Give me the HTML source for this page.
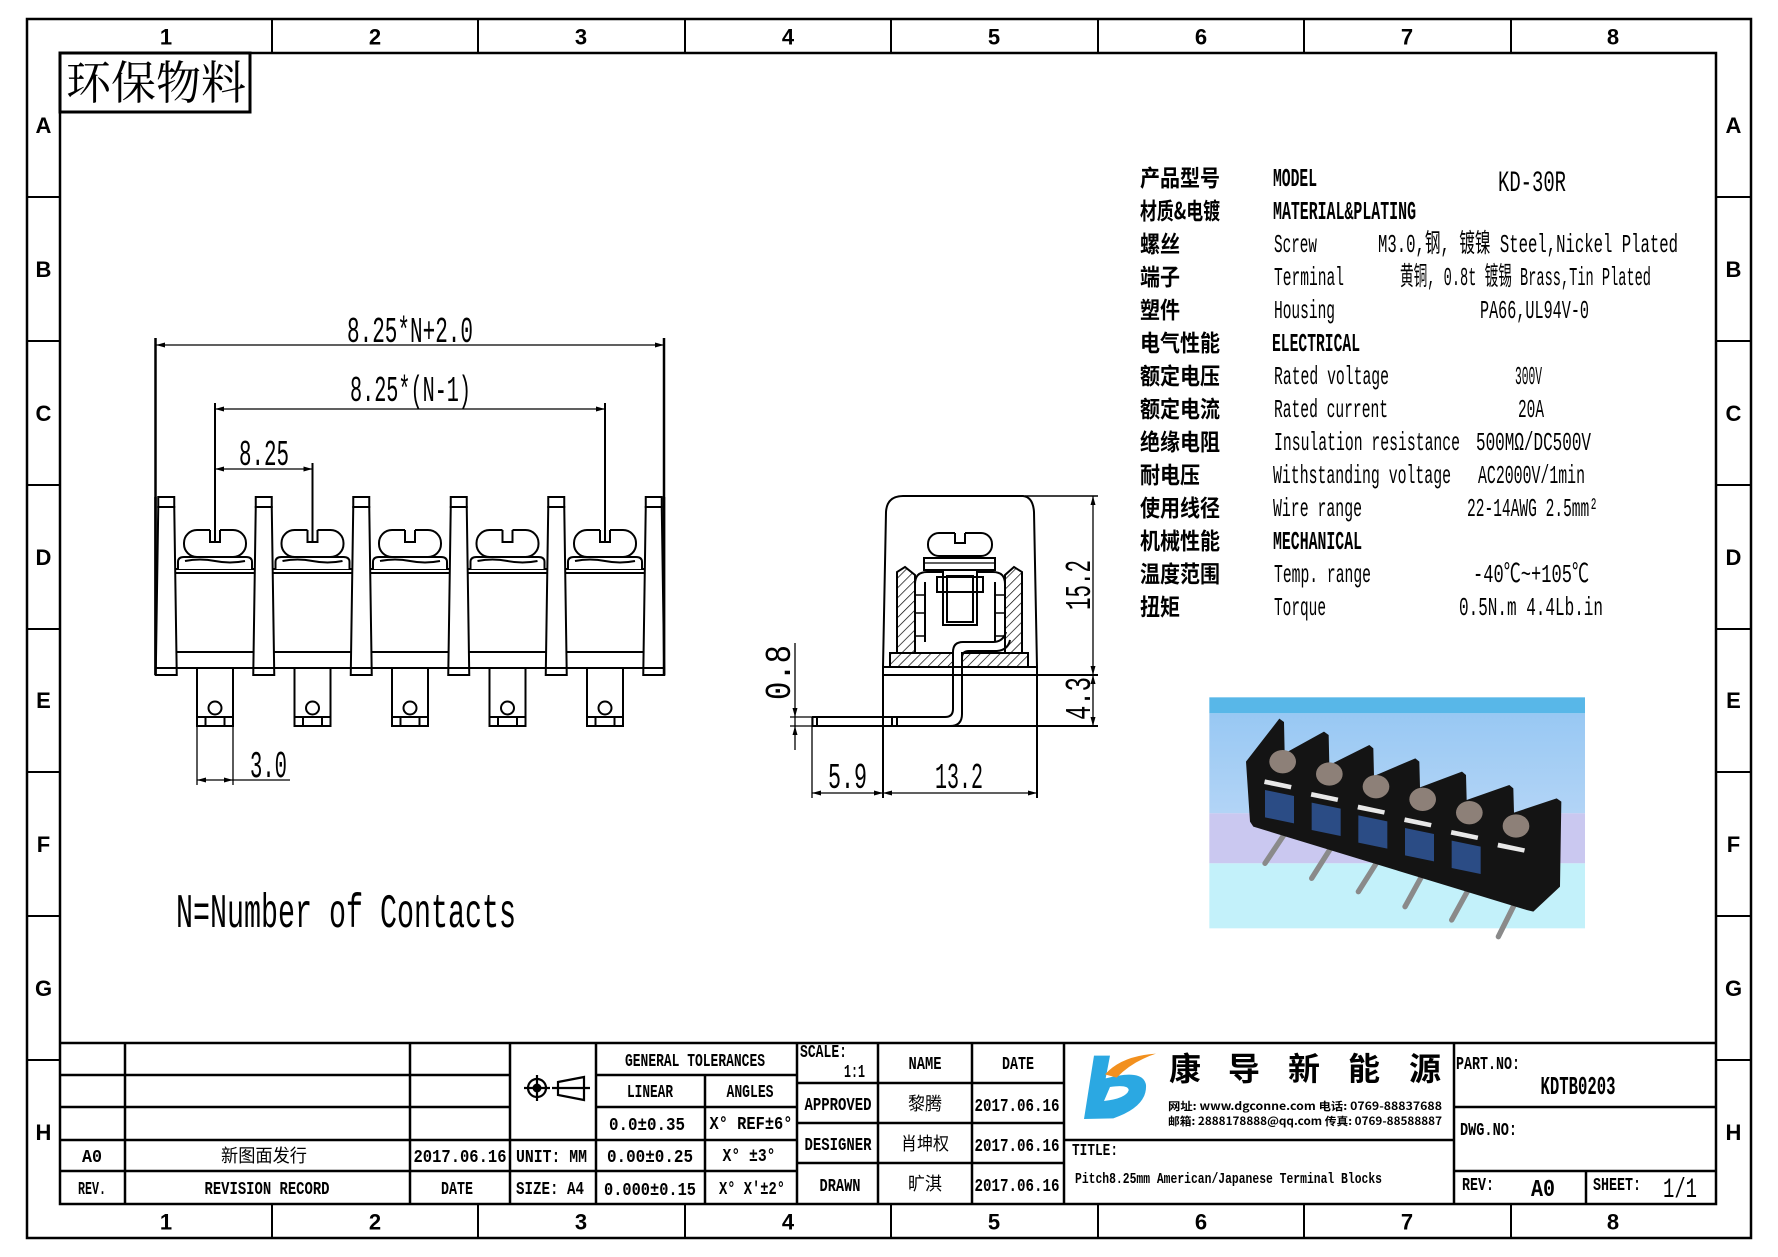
<!DOCTYPE html>
<html><head><meta charset="utf-8"><style>
html,body{margin:0;padding:0;background:#fff;}
svg{display:block}
.m{font-family:"Liberation Mono","Noto Sans CJK SC",monospace;}
.mb{font-family:"Liberation Mono","Noto Sans CJK SC",monospace;font-weight:bold;}
.sb{font-family:"Liberation Sans",sans-serif;font-weight:bold;}
.c{font-family:"Noto Sans CJK SC",sans-serif;}
.cb{font-family:"Noto Sans CJK SC",sans-serif;font-weight:bold;}
.cs{font-family:"Noto Serif CJK SC","Noto Sans CJK SC",serif;}
</style></head><body>
<svg width="1778" height="1257" viewBox="0 0 1778 1257" xmlns="http://www.w3.org/2000/svg">
<defs>
<pattern id="h" width="7" height="7" patternUnits="userSpaceOnUse" patternTransform="rotate(45)"><line x1="0" y1="0" x2="0" y2="7" stroke="#000" stroke-width="1.4"/></pattern>
<linearGradient id="g1" x1="0" y1="0" x2="0" y2="1"><stop offset="0" stop-color="#98c8f3"/><stop offset="1" stop-color="#b2d4f6"/></linearGradient>
</defs>
<rect width="1778" height="1257" fill="#fff"/>

<!-- Frame -->
<g stroke="#000" fill="none">
<rect x="27" y="19" width="1724" height="1219" stroke-width="2.5"/>
<rect x="60" y="53" width="1656" height="1151" stroke-width="2.5"/>
<g stroke-width="2">
<line x1="272" y1="19" x2="272" y2="53"/><line x1="478" y1="19" x2="478" y2="53"/><line x1="685" y1="19" x2="685" y2="53"/><line x1="891" y1="19" x2="891" y2="53"/><line x1="1098" y1="19" x2="1098" y2="53"/><line x1="1304" y1="19" x2="1304" y2="53"/><line x1="1511" y1="19" x2="1511" y2="53"/>
<line x1="272" y1="1204" x2="272" y2="1238"/><line x1="478" y1="1204" x2="478" y2="1238"/><line x1="685" y1="1204" x2="685" y2="1238"/><line x1="891" y1="1204" x2="891" y2="1238"/><line x1="1098" y1="1204" x2="1098" y2="1238"/><line x1="1304" y1="1204" x2="1304" y2="1238"/><line x1="1511" y1="1204" x2="1511" y2="1238"/>
<line x1="27" y1="197" x2="60" y2="197"/><line x1="27" y1="341" x2="60" y2="341"/><line x1="27" y1="485" x2="60" y2="485"/><line x1="27" y1="629" x2="60" y2="629"/><line x1="27" y1="772" x2="60" y2="772"/><line x1="27" y1="916" x2="60" y2="916"/><line x1="27" y1="1060" x2="60" y2="1060"/>
<line x1="1716" y1="197" x2="1751" y2="197"/><line x1="1716" y1="341" x2="1751" y2="341"/><line x1="1716" y1="485" x2="1751" y2="485"/><line x1="1716" y1="629" x2="1751" y2="629"/><line x1="1716" y1="772" x2="1751" y2="772"/><line x1="1716" y1="916" x2="1751" y2="916"/><line x1="1716" y1="1060" x2="1751" y2="1060"/>
</g>
</g>
<g class="sb" font-size="22" text-anchor="middle" fill="#000">
<text x="166" y="44.5">1</text><text x="375" y="44.5">2</text><text x="581" y="44.5">3</text><text x="788" y="44.5">4</text><text x="994" y="44.5">5</text><text x="1201" y="44.5">6</text><text x="1407" y="44.5">7</text><text x="1613" y="44.5">8</text>
<text x="166" y="1229.5">1</text><text x="375" y="1229.5">2</text><text x="581" y="1229.5">3</text><text x="788" y="1229.5">4</text><text x="994" y="1229.5">5</text><text x="1201" y="1229.5">6</text><text x="1407" y="1229.5">7</text><text x="1613" y="1229.5">8</text>
<text x="43.5" y="133">A</text><text x="43.5" y="277">B</text><text x="43.5" y="421">C</text><text x="43.5" y="565">D</text><text x="43.5" y="708">E</text><text x="43.5" y="852">F</text><text x="43.5" y="996">G</text><text x="43.5" y="1140">H</text>
<text x="1733.5" y="133">A</text><text x="1733.5" y="277">B</text><text x="1733.5" y="421">C</text><text x="1733.5" y="565">D</text><text x="1733.5" y="708">E</text><text x="1733.5" y="852">F</text><text x="1733.5" y="996">G</text><text x="1733.5" y="1140">H</text>
</g>

<!-- 环保物料 -->
<rect x="60" y="53" width="190" height="59" fill="none" stroke="#000" stroke-width="3"/>
<text class="cs" x="66" y="99" font-size="46" textLength="180" lengthAdjust="spacingAndGlyphs" fill="#000">环保物料</text>

<!-- Front view -->
<g stroke="#000" stroke-width="1.3" fill="none">
<line x1="155.5" y1="338" x2="155.5" y2="675" stroke-width="2.5"/>
<line x1="664" y1="338" x2="664" y2="675" stroke-width="2.5"/>
<line x1="155.5" y1="345" x2="664" y2="345"/>
<line x1="215" y1="403" x2="215" y2="542" stroke-width="2"/>
<line x1="605" y1="403" x2="605" y2="542" stroke-width="2"/>
<line x1="215" y1="409" x2="605" y2="409"/>
<line x1="312.5" y1="463" x2="312.5" y2="542" stroke-width="2"/>
<line x1="215" y1="469" x2="312.5" y2="469"/>
</g>
<g fill="#000">
<polygon points="156,345 165,342.5 165,347.5"/><polygon points="664,345 655,342.5 655,347.5"/>
<polygon points="215,409 224,406.5 224,411.5"/><polygon points="605,409 596,406.5 596,411.5"/>
<polygon points="215,469 224,466.5 224,471.5"/><polygon points="312.5,469 303.5,466.5 303.5,471.5"/>
</g>
<g class="m" fill="#000" font-size="36">
<text x="347" y="342" textLength="126" lengthAdjust="spacingAndGlyphs">8.25*N+2.0</text>
<text x="350" y="401" textLength="121" lengthAdjust="spacingAndGlyphs">8.25*(N-1)</text>
<text x="239" y="465" textLength="50" lengthAdjust="spacingAndGlyphs">8.25</text>
<text x="250" y="777" textLength="37" lengthAdjust="spacingAndGlyphs" font-size="38">3.0</text>
</g>
<g stroke="#000" stroke-width="2" fill="#fff">
<line x1="156" y1="569" x2="664" y2="569"/>
<line x1="156" y1="573" x2="664" y2="573"/>
<line x1="156" y1="652" x2="664" y2="652"/>
<!-- screws -->
<g id="scr">
<path d="M178,569 V562 Q178,557 184,557 H246 Q252,557 252,562 V569"/>
<path d="M185,561 Q200,558 215,561 Q230,564 245,561" fill="none"/>
<rect x="184" y="530" width="62" height="27" rx="13"/>
<rect x="210" y="528.5" width="10" height="13" stroke="none"/>
<path d="M210,530 V542 H220 V530" fill="none"/>
<rect x="197" y="668" width="36" height="58"/>
<circle cx="215" cy="708" r="6.5"/>
<path d="M197,717 H233 M205.5,717 V726 M224.5,717 V726" fill="none"/>
</g>
<use href="#scr" x="97.5"/><use href="#scr" x="195"/><use href="#scr" x="292.5"/><use href="#scr" x="390"/>
<!-- barriers -->
<rect x="158.25" y="497" width="16" height="10"/><polygon points="158.25,507 174.25,507 176.75,675 155.75,675"/>
<rect x="255.75" y="497" width="16" height="10"/><polygon points="255.75,507 271.75,507 274.25,675 253.25,675"/>
<rect x="353.25" y="497" width="16" height="10"/><polygon points="353.25,507 369.25,507 371.75,675 350.75,675"/>
<rect x="450.75" y="497" width="16" height="10"/><polygon points="450.75,507 466.75,507 469.25,675 448.25,675"/>
<rect x="548.25" y="497" width="16" height="10"/><polygon points="548.25,507 564.25,507 566.75,675 545.75,675"/>
<rect x="645.75" y="497" width="16" height="10"/><polygon points="645.75,507 661.75,507 664.25,675 643.25,675"/>
<line x1="156" y1="668" x2="664" y2="668"/>
<line x1="155.5" y1="497" x2="155.5" y2="675" stroke-width="2.5"/>
<line x1="664" y1="497" x2="664" y2="675" stroke-width="2.5"/>
<line x1="215" y1="497" x2="215" y2="542"/>
<line x1="605" y1="497" x2="605" y2="542"/>
<line x1="312.5" y1="497" x2="312.5" y2="542"/>
</g>
<g stroke="#000" stroke-width="1.3" fill="none">
<line x1="197" y1="726" x2="197" y2="785"/>
<line x1="233" y1="726" x2="233" y2="785"/>
<line x1="197" y1="780" x2="290" y2="780"/>
</g>
<g fill="#000"><polygon points="197,780 206,777.5 206,782.5"/><polygon points="233,780 224,777.5 224,782.5"/></g>

<text class="m" x="176" y="927" font-size="48" textLength="340" lengthAdjust="spacingAndGlyphs" fill="#000">N=Number of Contacts</text>

<!-- Side view -->
<g stroke="#000" stroke-width="2" fill="none">
<path d="M883,667 L886,512 Q887,496 903,496 L1023,496 Q1033,497 1034,512 L1037,667"/>
<line x1="882" y1="667" x2="1037" y2="667"/>
<line x1="882" y1="675" x2="1098" y2="675"/>
<line x1="883" y1="667" x2="883" y2="798"/>
<line x1="1037" y1="667" x2="1037" y2="798"/>
<line x1="812" y1="726" x2="1098" y2="726"/>
<line x1="1025" y1="496" x2="1098" y2="496" stroke-width="1.5"/>
<path d="M812,717 H945 Q953,717 953,709 V652 Q953,642 963,642 H993 Q1003,642 1006,632"/>
<path d="M950,726 Q962,726 962,714 V658 Q962,651 969,651 H997 Q1008,650 1010,640"/>
<line x1="812.5" y1="717" x2="812.5" y2="726"/><line x1="817" y1="717" x2="817" y2="726"/>
<line x1="892" y1="717" x2="892" y2="726"/><line x1="897" y1="717" x2="897" y2="726"/>
<polygon points="897,653 897,572 905,567 915,575 915,653" fill="url(#h)"/>
<polygon points="1005,653 1005,575 1014,567 1022,572 1022,653" fill="url(#h)"/>
<polygon points="890,653 953,653 953,667 890,667" fill="url(#h)"/>
<polygon points="962,653 1028,653 1028,667 962,667" fill="url(#h)"/>
<path d="M915,653 V584 Q915,572 927,572 H993 Q1005,572 1005,584 V653"/>
<line x1="925" y1="582" x2="925" y2="642"/><line x1="995" y1="582" x2="995" y2="642"/>
<path d="M915,595 H925 M915,613 H925 M915,636 H925 M995,595 H1005 M995,613 H1005 M995,636 H1005" stroke-width="1.5"/>
<rect x="924" y="558" width="71" height="12" fill="#fff"/>
<line x1="924" y1="563" x2="995" y2="563" stroke-width="1.3"/>
<rect x="928" y="533" width="64" height="23" rx="11" fill="#fff"/>
<rect x="955" y="531.5" width="10" height="11" fill="#fff" stroke="none"/>
<path d="M955,533 V543 H965 V533"/>
<rect x="943" y="570" width="34" height="55" fill="#fff"/>
<rect x="947" y="576" width="26" height="46"/>
<rect x="937" y="577" width="46" height="15"/>
<g stroke-width="1.3">
<line x1="1093" y1="496" x2="1093" y2="726"/>
<line x1="795" y1="643" x2="795" y2="750"/>
<line x1="790" y1="717" x2="812" y2="717"/>
<line x1="790" y1="726" x2="812" y2="726"/>
<line x1="812" y1="717" x2="812" y2="798"/>
<line x1="812" y1="793" x2="1037" y2="793"/>
</g>
</g>
<g fill="#000">
<polygon points="1093,496 1090.5,505 1095.5,505"/><polygon points="1093,675 1090.5,666 1095.5,666"/>
<polygon points="1093,675 1090.5,684 1095.5,684"/><polygon points="1093,726 1090.5,717 1095.5,717"/>
<polygon points="795,717 792.5,708 797.5,708"/><polygon points="795,726 792.5,735 797.5,735"/>
<polygon points="812,793 821,790.5 821,795.5"/><polygon points="883,793 874,790.5 874,795.5"/>
<polygon points="883,793 892,790.5 892,795.5"/><polygon points="1037,793 1028,790.5 1028,795.5"/>
</g>
<g class="m" fill="#000" font-size="36">
<text transform="translate(1090,585) rotate(-90)" text-anchor="middle" textLength="50" lengthAdjust="spacingAndGlyphs">15.2</text>
<text transform="translate(1090,698.5) rotate(-90)" text-anchor="middle" textLength="43" lengthAdjust="spacingAndGlyphs">4.3</text>
<text transform="translate(790,672.5) rotate(-90)" text-anchor="middle" textLength="55" lengthAdjust="spacingAndGlyphs">0.8</text>
<text x="828" y="788" textLength="39" lengthAdjust="spacingAndGlyphs">5.9</text>
<text x="935" y="788" textLength="48" lengthAdjust="spacingAndGlyphs">13.2</text>
</g>

<!-- Spec table -->
<g class="cb" font-size="23" fill="#000" lengthAdjust="spacingAndGlyphs">
<text x="1140" y="186" textLength="80" lengthAdjust="spacingAndGlyphs">产品型号</text>
<text x="1140" y="219" textLength="80" lengthAdjust="spacingAndGlyphs">材质&amp;电镀</text>
<text x="1140" y="252" textLength="40" lengthAdjust="spacingAndGlyphs">螺丝</text>
<text x="1140" y="285" textLength="40" lengthAdjust="spacingAndGlyphs">端子</text>
<text x="1140" y="318" textLength="40" lengthAdjust="spacingAndGlyphs">塑件</text>
<text x="1140" y="351" textLength="80" lengthAdjust="spacingAndGlyphs">电气性能</text>
<text x="1140" y="384" textLength="80" lengthAdjust="spacingAndGlyphs">额定电压</text>
<text x="1140" y="417" textLength="80" lengthAdjust="spacingAndGlyphs">额定电流</text>
<text x="1140" y="450" textLength="80" lengthAdjust="spacingAndGlyphs">绝缘电阻</text>
<text x="1140" y="483" textLength="60" lengthAdjust="spacingAndGlyphs">耐电压</text>
<text x="1140" y="516" textLength="80" lengthAdjust="spacingAndGlyphs">使用线径</text>
<text x="1140" y="549" textLength="80" lengthAdjust="spacingAndGlyphs">机械性能</text>
<text x="1140" y="582" textLength="80" lengthAdjust="spacingAndGlyphs">温度范围</text>
<text x="1140" y="615" textLength="40" lengthAdjust="spacingAndGlyphs">扭矩</text>
</g>
<g class="m" font-size="26" fill="#000">
<text class="mb" x="1273" y="186" textLength="44" lengthAdjust="spacingAndGlyphs">MODEL</text>
<text x="1498" y="191" font-size="30" textLength="68" lengthAdjust="spacingAndGlyphs">KD-30R</text>
<text class="mb" x="1273" y="219" textLength="143" lengthAdjust="spacingAndGlyphs">MATERIAL&amp;PLATING</text>
<text x="1274" y="252" textLength="43" lengthAdjust="spacingAndGlyphs">Screw</text>
<text x="1378" y="252" textLength="300" lengthAdjust="spacingAndGlyphs">M3.0,钢, 镀镍 Steel,Nickel Plated</text>
<text x="1274" y="285" textLength="70" lengthAdjust="spacingAndGlyphs">Terminal</text>
<text x="1400" y="285" textLength="251" lengthAdjust="spacingAndGlyphs">黄铜, 0.8t 镀锡 Brass,Tin Plated</text>
<text x="1274" y="318" textLength="61" lengthAdjust="spacingAndGlyphs">Housing</text>
<text x="1480" y="318" textLength="109" lengthAdjust="spacingAndGlyphs">PA66,UL94V-0</text>
<text class="mb" x="1272" y="351" textLength="88" lengthAdjust="spacingAndGlyphs">ELECTRICAL</text>
<text x="1274" y="384" textLength="115" lengthAdjust="spacingAndGlyphs">Rated voltage</text>
<text x="1515" y="384" textLength="27" lengthAdjust="spacingAndGlyphs">300V</text>
<text x="1274" y="417" textLength="114" lengthAdjust="spacingAndGlyphs">Rated current</text>
<text x="1518" y="417" textLength="26" lengthAdjust="spacingAndGlyphs">20A</text>
<text x="1274" y="450" textLength="186" lengthAdjust="spacingAndGlyphs">Insulation resistance</text>
<text x="1476" y="450" textLength="115" lengthAdjust="spacingAndGlyphs">500MΩ/DC500V</text>
<text x="1273" y="483" textLength="178" lengthAdjust="spacingAndGlyphs">Withstanding voltage</text>
<text x="1478" y="483" textLength="107" lengthAdjust="spacingAndGlyphs">AC2000V/1min</text>
<text x="1273" y="516" textLength="89" lengthAdjust="spacingAndGlyphs">Wire range</text>
<text x="1467" y="516" textLength="131" lengthAdjust="spacingAndGlyphs">22-14AWG 2.5mm²</text>
<text class="mb" x="1273" y="549" textLength="89" lengthAdjust="spacingAndGlyphs">MECHANICAL</text>
<text x="1274" y="582" textLength="97" lengthAdjust="spacingAndGlyphs">Temp. range</text>
<text x="1473" y="582" textLength="116" lengthAdjust="spacingAndGlyphs">-40℃~+105℃</text>
<text x="1274" y="615" textLength="52" lengthAdjust="spacingAndGlyphs">Torque</text>
<text x="1459" y="615" textLength="144" lengthAdjust="spacingAndGlyphs">0.5N.m  4.4Lb.in</text>
</g>

<!-- Photo -->
<g transform="translate(1200,690) scale(0.33333)">
<rect x="28" y="22" width="1127" height="48" fill="#58b7e8"/>
<rect x="28" y="70" width="1127" height="300" fill="url(#g1)"/>
<rect x="28" y="370" width="1127" height="150" fill="#cac8f0"/>
<rect x="28" y="520" width="1127" height="195" fill="#c3f1fa"/>
<g stroke="#8a8a8a" stroke-width="16" stroke-linecap="round">
<line x1="255" y1="430" x2="195" y2="520"/><line x1="395" y1="470" x2="335" y2="565"/><line x1="535" y1="510" x2="475" y2="605"/><line x1="670" y1="550" x2="615" y2="650"/><line x1="810" y1="590" x2="755" y2="690"/><line x1="950" y1="630" x2="895" y2="740"/>
</g>
<polygon fill="#141414" points="138,215 238,86 252,96 254,190 372,125 386,135 388,225 508,165 520,175 522,258 646,205 658,215 660,292 786,245 798,255 800,330 928,285 940,295 942,368 1070,325 1084,335 1080,590 1000,665 980,660 160,410 150,395"/>
<g fill="#8d8078">
<ellipse cx="248" cy="215" rx="40" ry="35"/><ellipse cx="388" cy="252" rx="40" ry="35"/><ellipse cx="528" cy="290" rx="40" ry="35"/><ellipse cx="668" cy="328" rx="40" ry="35"/><ellipse cx="808" cy="368" rx="40" ry="35"/><ellipse cx="948" cy="408" rx="40" ry="35"/>
</g>
<g fill="#e8e8e8">
<polygon points="195,268 275,285 272,298 192,282"/><polygon points="335,306 415,323 412,336 332,320"/><polygon points="475,344 555,361 552,374 472,358"/><polygon points="615,382 695,399 692,412 612,396"/><polygon points="755,420 835,437 832,450 752,434"/><polygon points="895,458 975,475 972,488 892,472"/>
</g>
<g fill="#2b4c85">
<polygon points="195,300 282,318 282,400 195,382"/><polygon points="335,338 422,356 422,438 335,420"/><polygon points="475,376 562,394 562,476 475,458"/><polygon points="615,414 702,432 702,514 615,496"/><polygon points="755,452 842,470 842,552 755,534"/>
</g>
</g>

<!-- Title block -->
<g stroke="#000" stroke-width="2.5" fill="none">
<line x1="60" y1="1043" x2="1716" y2="1043"/>
<line x1="60" y1="1075" x2="510" y2="1075"/><line x1="596" y1="1075" x2="797" y2="1075"/>
<line x1="60" y1="1107" x2="510" y2="1107"/><line x1="596" y1="1107" x2="797" y2="1107"/>
<line x1="60" y1="1140" x2="797" y2="1140"/><line x1="1064" y1="1140" x2="1454" y2="1140"/>
<line x1="60" y1="1171" x2="797" y2="1171"/>
<line x1="1454" y1="1107" x2="1716" y2="1107"/><line x1="1454" y1="1171" x2="1716" y2="1171"/>
<line x1="797" y1="1083" x2="1064" y2="1083"/><line x1="797" y1="1123" x2="1064" y2="1123"/><line x1="797" y1="1163" x2="1064" y2="1163"/>
<line x1="125" y1="1043" x2="125" y2="1204"/><line x1="410" y1="1043" x2="410" y2="1204"/><line x1="510" y1="1043" x2="510" y2="1204"/>
<line x1="596" y1="1043" x2="596" y2="1204"/><line x1="705" y1="1075" x2="705" y2="1204"/>
<line x1="797" y1="1043" x2="797" y2="1204"/><line x1="878" y1="1043" x2="878" y2="1204"/><line x1="972" y1="1043" x2="972" y2="1204"/>
<line x1="1064" y1="1043" x2="1064" y2="1204"/><line x1="1454" y1="1043" x2="1454" y2="1204"/><line x1="1586" y1="1171" x2="1586" y2="1204"/>
</g>
<!-- projection symbol -->
<g stroke="#000" stroke-width="2.2" fill="none">
<circle cx="537" cy="1088" r="9"/>
<line x1="524" y1="1088" x2="550" y2="1088"/><line x1="537" y1="1075" x2="537" y2="1101"/>
<polygon points="558,1082 584,1077 584,1100 558,1095"/>
<line x1="552" y1="1088" x2="590" y2="1088"/>
</g>
<circle cx="537" cy="1088" r="4.5" fill="#000"/>

<g class="mb" font-size="18" fill="#000">
<text x="92" y="1162" text-anchor="middle" textLength="20" lengthAdjust="spacingAndGlyphs">A0</text>
<text x="460" y="1162" text-anchor="middle" textLength="93" lengthAdjust="spacingAndGlyphs">2017.06.16</text>
<text x="516" y="1162" textLength="71" lengthAdjust="spacingAndGlyphs">UNIT: MM</text>
<text x="92" y="1194" text-anchor="middle" textLength="28" lengthAdjust="spacingAndGlyphs">REV.</text>
<text x="267" y="1194" text-anchor="middle" textLength="125" lengthAdjust="spacingAndGlyphs">REVISION RECORD</text>
<text x="457" y="1194" text-anchor="middle" textLength="32" lengthAdjust="spacingAndGlyphs">DATE</text>
<text x="516" y="1194" textLength="68" lengthAdjust="spacingAndGlyphs">SIZE: A4</text>
<text x="695" y="1066" text-anchor="middle" textLength="140" lengthAdjust="spacingAndGlyphs">GENERAL TOLERANCES</text>
<text x="650" y="1097" text-anchor="middle" textLength="46" lengthAdjust="spacingAndGlyphs">LINEAR</text>
<text x="750" y="1097" text-anchor="middle" textLength="47" lengthAdjust="spacingAndGlyphs">ANGLES</text>
<text x="647" y="1130" text-anchor="middle" textLength="76" lengthAdjust="spacingAndGlyphs">0.0±0.35</text>
<text x="751" y="1129" text-anchor="middle" textLength="83" lengthAdjust="spacingAndGlyphs">X° REF±6°</text>
<text x="650" y="1162" text-anchor="middle" textLength="86" lengthAdjust="spacingAndGlyphs">0.00±0.25</text>
<text x="749" y="1161" text-anchor="middle" textLength="53" lengthAdjust="spacingAndGlyphs">X°  ±3°</text>
<text x="650" y="1195" text-anchor="middle" textLength="92" lengthAdjust="spacingAndGlyphs">0.000±0.15</text>
<text x="752" y="1194" text-anchor="middle" textLength="66" lengthAdjust="spacingAndGlyphs">X° X'±2°</text>
<text x="800" y="1057" textLength="47" lengthAdjust="spacingAndGlyphs">SCALE:</text>
<text x="844" y="1077" textLength="21" lengthAdjust="spacingAndGlyphs">1:1</text>
<text x="925" y="1069" text-anchor="middle" textLength="33" lengthAdjust="spacingAndGlyphs">NAME</text>
<text x="1018" y="1069" text-anchor="middle" textLength="32" lengthAdjust="spacingAndGlyphs">DATE</text>
<text x="838" y="1110" text-anchor="middle" textLength="67" lengthAdjust="spacingAndGlyphs">APPROVED</text>
<text x="1017" y="1111" text-anchor="middle" textLength="85" lengthAdjust="spacingAndGlyphs">2017.06.16</text>
<text x="838" y="1150" text-anchor="middle" textLength="67" lengthAdjust="spacingAndGlyphs">DESIGNER</text>
<text x="1017" y="1151" text-anchor="middle" textLength="85" lengthAdjust="spacingAndGlyphs">2017.06.16</text>
<text x="840" y="1191" text-anchor="middle" textLength="41" lengthAdjust="spacingAndGlyphs">DRAWN</text>
<text x="1017" y="1191" text-anchor="middle" textLength="85" lengthAdjust="spacingAndGlyphs">2017.06.16</text>
<text x="1072" y="1155" font-size="17" textLength="46" lengthAdjust="spacingAndGlyphs">TITLE:</text>
<text x="1075" y="1183" font-size="15" textLength="307" lengthAdjust="spacingAndGlyphs">Pitch8.25mm American/Japanese Terminal Blocks</text>
<text x="1456" y="1069" textLength="64" lengthAdjust="spacingAndGlyphs">PART.NO:</text>
<text x="1578" y="1094" font-size="26" text-anchor="middle" textLength="75" lengthAdjust="spacingAndGlyphs">KDTB0203</text>
<text x="1460" y="1135" textLength="57" lengthAdjust="spacingAndGlyphs">DWG.NO:</text>
<text x="1462" y="1190" textLength="32" lengthAdjust="spacingAndGlyphs">REV:</text>
<text x="1531" y="1196" font-size="24" textLength="24" lengthAdjust="spacingAndGlyphs">A0</text>
<text x="1593" y="1190" textLength="48" lengthAdjust="spacingAndGlyphs">SHEET:</text>
</g>
<text class="m" x="1663" y="1197" font-size="28" textLength="34" lengthAdjust="spacingAndGlyphs" fill="#000">1/1</text>
<g class="c" font-size="18" fill="#000" text-anchor="middle">
<text x="264" y="1162" textLength="86" lengthAdjust="spacingAndGlyphs">新图面发行</text>
<text x="925" y="1110" textLength="34" lengthAdjust="spacingAndGlyphs">黎腾</text>
<text x="925" y="1150" textLength="48" lengthAdjust="spacingAndGlyphs">肖坤权</text>
<text x="925" y="1190" textLength="34" lengthAdjust="spacingAndGlyphs">旷淇</text>
</g>

<!-- Logo -->
<g transform="translate(1060,1035) scale(0.33333)">
<path d="M102,62 L150,62 L137,130 Q250,100 258,150 Q262,215 160,250 L72,252 Z" fill="#2ba8e2"/>
<path d="M132,198 Q198,190 206,166 Q206,148 150,156 Z" fill="#fff"/>
<path d="M135,118 Q185,62 288,56 Q215,80 170,128 Z" fill="#f2901e"/>
</g>
<g class="cb" font-size="32" fill="#000" text-anchor="middle">
<text x="1185" y="1080">康</text><text x="1244" y="1080">导</text><text x="1304" y="1080">新</text><text x="1364" y="1080">能</text><text x="1425" y="1080">源</text>
</g>
<g class="cb" font-size="11" fill="#000">
<text x="1168" y="1110" textLength="274" lengthAdjust="spacingAndGlyphs">网址: www.dgconne.com    电话: 0769-88837688</text>
<text x="1168" y="1125" textLength="274" lengthAdjust="spacingAndGlyphs">邮箱: 2888178888@qq.com 传真: 0769-88588887</text>
</g>
</svg>
</body></html>
